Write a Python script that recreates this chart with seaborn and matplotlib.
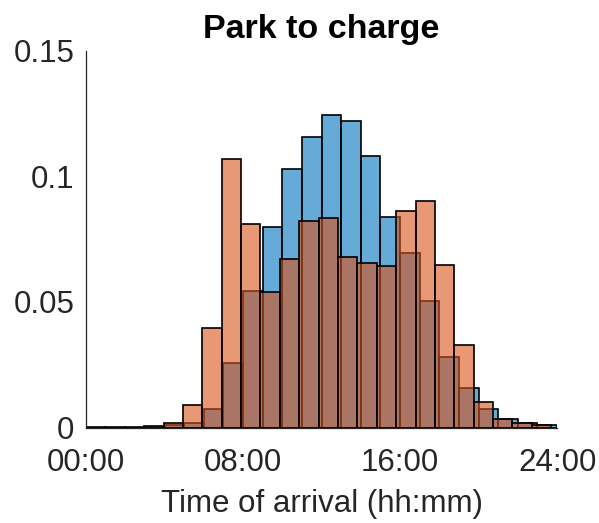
import matplotlib
matplotlib.use("Agg")
import matplotlib.pyplot as plt
import numpy as np
import pandas as pd
import seaborn as sns

# Datos (probabilidad por hora de llegada)
blue_edges = list(np.arange(0, 25, 1.0))
blue_vals = [0, 0, 0, 0.0002, 0.0010, 0.0019, 0.0072, 0.0258, 0.0543, 0.0800,
             0.1030, 0.1157, 0.1244, 0.1222, 0.1081, 0.0838, 0.0696, 0.0503,
             0.0282, 0.0158, 0.0072, 0.0032, 0.0019, 0.0009]

orange_edges = list(np.linspace(0, 23.7, 25))
orange_vals = [0.0003, 0.0002, 0.0002, 0.0005, 0.0018, 0.0090, 0.0397, 0.1070,
               0.0809, 0.0539, 0.0672, 0.0822, 0.0834, 0.0680, 0.0655, 0.0643,
               0.0863, 0.0903, 0.0648, 0.0328, 0.0101, 0.0032, 0.0019, 0.0009]

x_ticks = [0, 8, 16, 24]
x_labels = ['00:00', '08:00', '16:00', '24:00']
y_ticks = [0, 0.05, 0.1, 0.15]
y_labels = ['0', '0.05', '0.1', '0.15']

sns.set_style("white")
plt.rcParams['font.family'] = ['Liberation Sans', 'DejaVu Sans']
txt = '#262626'

fig = plt.figure(figsize=(5.99, 5.23), dpi=100)
ax = fig.add_axes([0.1436, 0.1826, 0.7864, 0.7204])

df_blue = pd.DataFrame({
    'hora': [(a + b) / 2 for a, b in zip(blue_edges[:-1], blue_edges[1:])],
    'p': blue_vals})
df_orange = pd.DataFrame({
    'hora': [(a + b) / 2 for a, b in zip(orange_edges[:-1], orange_edges[1:])],
    'p': orange_vals})

sns.histplot(data=df_blue, x='hora', weights='p', bins=blue_edges, ax=ax,
             color='#0072BD', alpha=0.6, edgecolor='black', linewidth=1.2)
sns.histplot(data=df_orange, x='hora', weights='p', bins=orange_edges, ax=ax,
             color='#D95319', alpha=0.6, edgecolor='black', linewidth=1.2)

ax.set_xlim(0, 24)
ax.set_ylim(0, 0.15)
ax.set_xticks(x_ticks)
ax.set_xticklabels(x_labels)
ax.set_yticks(y_ticks)
ax.set_yticklabels(y_labels)
ax.tick_params(direction='in', length=4, width=0.9, colors=txt, labelsize=22.5)
ax.tick_params(axis='x', pad=15)
ax.tick_params(axis='y', pad=8.5)
ax.set_xlabel('Time of arrival (hh:mm)', fontsize=22.5, color=txt, labelpad=8)
ax.set_ylabel('')
ax.set_title('Park to charge', fontsize=24.5, fontweight='bold', color='black', pad=9)

sns.despine(ax=ax)
for s in ['left', 'bottom']:
    ax.spines[s].set_color(txt)
    ax.spines[s].set_linewidth(0.9)

fig.savefig('out.png', dpi=100)
